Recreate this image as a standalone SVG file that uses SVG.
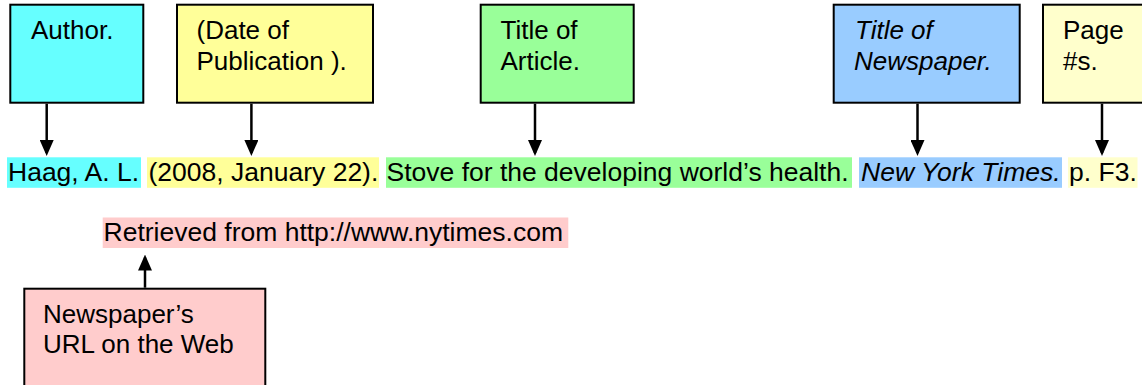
<svg xmlns="http://www.w3.org/2000/svg" width="1142" height="385" viewBox="0 0 1142 385">
<style>
.box{stroke:#000;stroke-width:2}
.bt{font-family:"Liberation Sans",Arial,sans-serif;font-size:26px;fill:#000}
.rt{font-family:"Liberation Sans",Arial,sans-serif;font-size:26.5px;fill:#000}
.it{font-style:italic}
.conn{stroke:#000;stroke-width:2.5;fill:none;marker-end:url(#ah)}
</style>
<defs>
<marker id="ah" markerUnits="userSpaceOnUse" viewBox="0 0 16 14" refX="13" refY="7" markerWidth="16" markerHeight="14" orient="auto">
<path d="M0,0 L16,7 L0,14 z" fill="#000"/>
</marker>
</defs>
<rect width="1142" height="385" fill="#fff"/>
<g id="author">
<rect class="box" x="10.3" y="4.7" width="133" height="98" fill="#66FFFF"/>
<text class="bt" x="31" y="38.5">Author.</text>
</g>
<g id="date">
<rect class="box" x="177" y="4.7" width="196" height="98" fill="#FFFF99"/>
<text class="bt" x="196.5" y="38.5">(Date of</text>
<text class="bt" x="196.5" y="69.5">Publication ).</text>
</g>
<g id="article">
<rect class="box" x="480.7" y="4.7" width="153" height="98" fill="#99FF99"/>
<text class="bt" x="500.5" y="38.5">Title of</text>
<text class="bt" x="500.5" y="69.5">Article.</text>
</g>
<g id="newspaper">
<rect class="box" x="833.7" y="4.7" width="186" height="98" fill="#99CCFF"/>
<text class="bt it" x="855" y="38.5">Title of</text>
<text class="bt it" x="854" y="69.5">Newspaper.</text>
</g>
<g id="page">
<rect class="box" x="1043" y="4.7" width="120" height="98" fill="#FFFFCC"/>
<text class="bt" x="1063" y="38.5">Page</text>
<text class="bt" x="1063" y="69.5">#s.</text>
</g>
<g id="url-box">
<rect class="box" x="24.3" y="288.7" width="241" height="120" fill="#FFCCCC"/>
<text class="bt" x="43" y="323.3">Newspaper’s</text>
<text class="bt" x="43" y="353.3">URL on the Web</text>
</g>
<g id="citation">
<rect x="7" y="157.3" width="134" height="30.5" fill="#66FFFF"/>
<rect x="147" y="157.3" width="232" height="30.5" fill="#FFFF99"/>
<rect x="386" y="157.3" width="466" height="30.5" fill="#99FF99"/>
<rect x="859" y="157.3" width="203" height="30.5" fill="#99CCFF"/>
<rect x="1068" y="157.3" width="69.5" height="30.5" fill="#FFFFCC"/>
<text class="rt" x="8" y="180.7">Haag, A. L.</text>
<text class="rt" x="148.5" y="180.7">(2008, January 22).</text>
<text class="rt" x="386.5" y="180.7">Stove for the developing world’s health.</text>
<text class="rt it" x="861" y="180.7">New York Times.</text>
<text class="rt" x="1069" y="180.7">p. F3.</text>
</g>
<g id="retrieved">
<rect x="102.7" y="217.5" width="465.6" height="30.5" fill="#FFCCCC"/>
<text class="rt" x="103.5" y="240.7">Retrieved from http://www.nytimes.com</text>
</g>
<g id="connectors">
<line class="conn" x1="46.7" y1="103.7" x2="46.7" y2="153"/>
<line class="conn" x1="251.4" y1="103.7" x2="251.4" y2="153"/>
<line class="conn" x1="535" y1="103.7" x2="535" y2="153"/>
<line class="conn" x1="917.5" y1="103.7" x2="917.5" y2="153"/>
<line class="conn" x1="1102" y1="103.7" x2="1102" y2="153"/>
<line class="conn" x1="145" y1="287.7" x2="145" y2="257.5"/>
</g>
</svg>
